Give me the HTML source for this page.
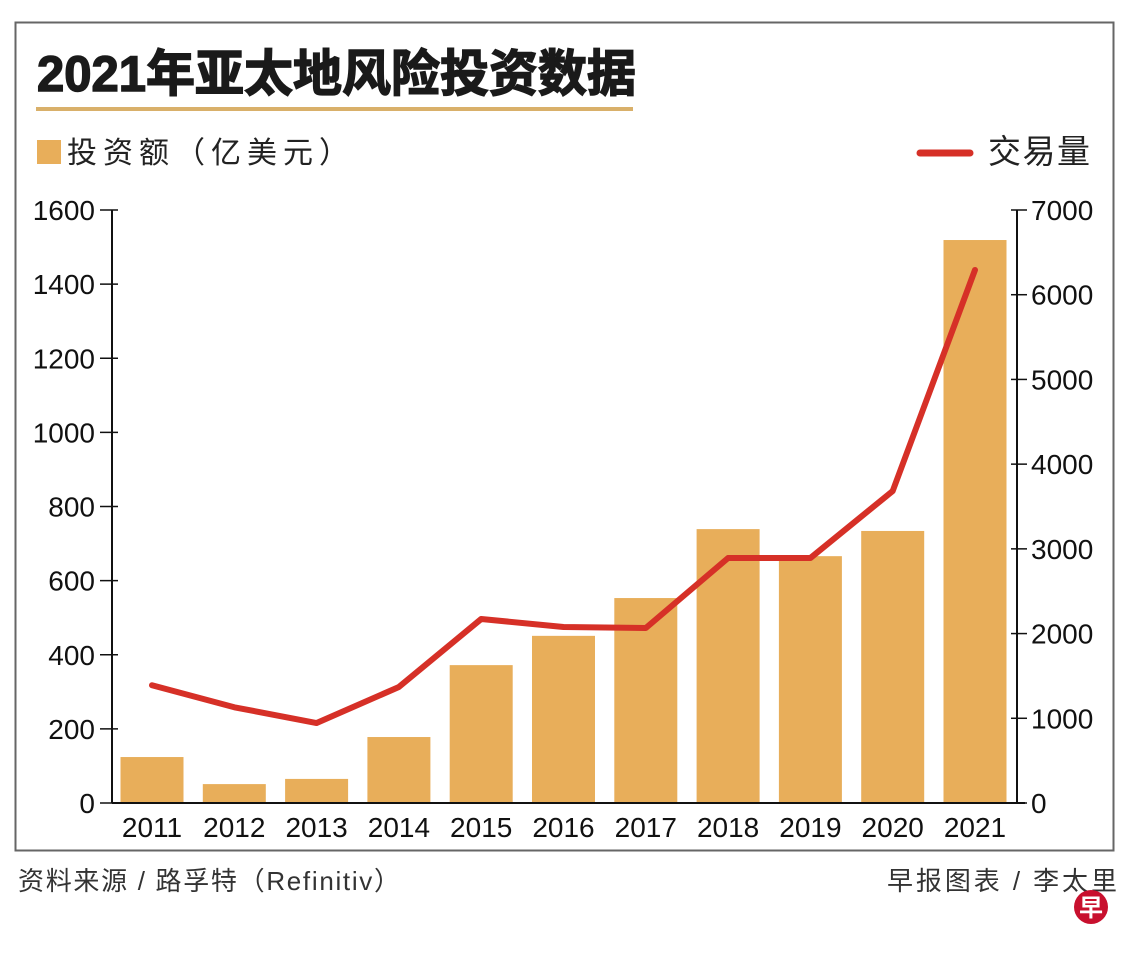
<!DOCTYPE html>
<html><head><meta charset="utf-8"><style>
body{margin:0;background:#fff;width:1140px;height:957px;overflow:hidden;font-family:"Liberation Sans","Noto Sans CJK SC",sans-serif}
</style></head><body>
<svg width="1140" height="957" viewBox="0 0 1140 957" id="svg" style="position:absolute;left:0;top:0">
<rect x="15.5" y="22.5" width="1098" height="828" fill="none" stroke="#666" stroke-width="2"/>
<text x="37" y="91" font-size="50" font-weight="bold" fill="#1a1a1a" stroke="#1a1a1a" stroke-width="1.5" textLength="599" lengthAdjust="spacingAndGlyphs" font-family="Liberation Sans,Noto Sans CJK SC,sans-serif">2021年亚太地风险投资数据</text>
<rect x="36" y="107" width="597" height="4" fill="#d9b06a"/>
<rect x="37" y="140" width="24" height="24" fill="#e8ae5a"/>
<text x="67" y="163" font-size="30" fill="#222" textLength="282" lengthAdjust="spacing">投资额（亿美元）</text>
<line x1="920" y1="153" x2="970" y2="153" stroke="#d63027" stroke-width="7" stroke-linecap="round"/>
<text x="988" y="163" font-size="33" fill="#222" textLength="102" lengthAdjust="spacing">交易量</text>
<g id="plot"></g>
<text x="18" y="890" font-size="26" fill="#333" textLength="382" lengthAdjust="spacing">资料来源 / 路孚特（Refinitiv）</text>
<text x="887" y="890" font-size="26" fill="#333" textLength="230" lengthAdjust="spacing">早报图表 / 李太里</text>
<circle cx="1091" cy="907" r="17" fill="#c8102e"/>
<text x="1091" y="916" font-size="24" fill="#fff" font-weight="bold" text-anchor="middle">早</text>
</svg>
<script>
const years=["2011","2012","2013","2014","2015","2016","2017","2018","2019","2020","2021"];
const invest=[124,51,65,178,372,451,553,739,666,734,1519];
const deals=[1390,1130,944,1370,2172,2078,2066,2892,2892,3683,6292];
const leftTicks=[0,200,400,600,800,1000,1200,1400,1600];
const rightTicks=[0,1000,2000,3000,4000,5000,6000,7000];
const NS="http://www.w3.org/2000/svg";
const g=document.getElementById('plot');
const x0=112,x1=1017,yb=803,yt=210,bw=63;
const yL=v=>yb-(v/1600)*(yb-yt);
const yR=v=>yb-(v/7000)*(yb-yt);
const xC=i=>152+i*82.3;
function el(t,a){const e=document.createElementNS(NS,t);for(const k in a)e.setAttribute(k,a[k]);g.appendChild(e);return e;}
invest.forEach((v,i)=>{const r=el('rect',{x:xC(i)-bw/2,y:yL(v),width:bw,height:yb-yL(v),fill:'#e8ae5a'});

});
const ax=el('line',{x1:x0,y1:yt,x2:x0,y2:yb,stroke:'#111','stroke-width':2});


const ar=el('line',{x1:x1,y1:yt,x2:x1,y2:yb,stroke:'#111','stroke-width':2});


const xa=el('line',{x1:x0,y1:yb,x2:x1+8,y2:yb,stroke:'#111','stroke-width':2});


leftTicks.forEach(v=>{const y=yL(v);el('line',{x1:x0-12,y1:y,x2:x0+6,y2:y,stroke:'#111','stroke-width':1.5});
const t=el('text',{x:95,y:y+10,'font-size':28,'text-anchor':'end',fill:'#111'});t.textContent=v;

});
rightTicks.forEach(v=>{const y=yR(v);el('line',{x1:x1-6,y1:y,x2:x1+10,y2:y,stroke:'#111','stroke-width':1.5});
const t=el('text',{x:1031,y:y+10,'font-size':28,fill:'#111'});t.textContent=v;

});
years.forEach((yv,i)=>{const t=el('text',{x:xC(i),y:837,'font-size':28,'text-anchor':'middle',fill:'#111'});t.textContent=yv;

});
const pts=deals.map((v,i)=>xC(i)+','+yR(v)).join(' ');
const pl=el('polyline',{points:pts,fill:'none',stroke:'#d63027','stroke-width':6,'stroke-linejoin':'round','stroke-linecap':'round'});


</script>
</body></html>
